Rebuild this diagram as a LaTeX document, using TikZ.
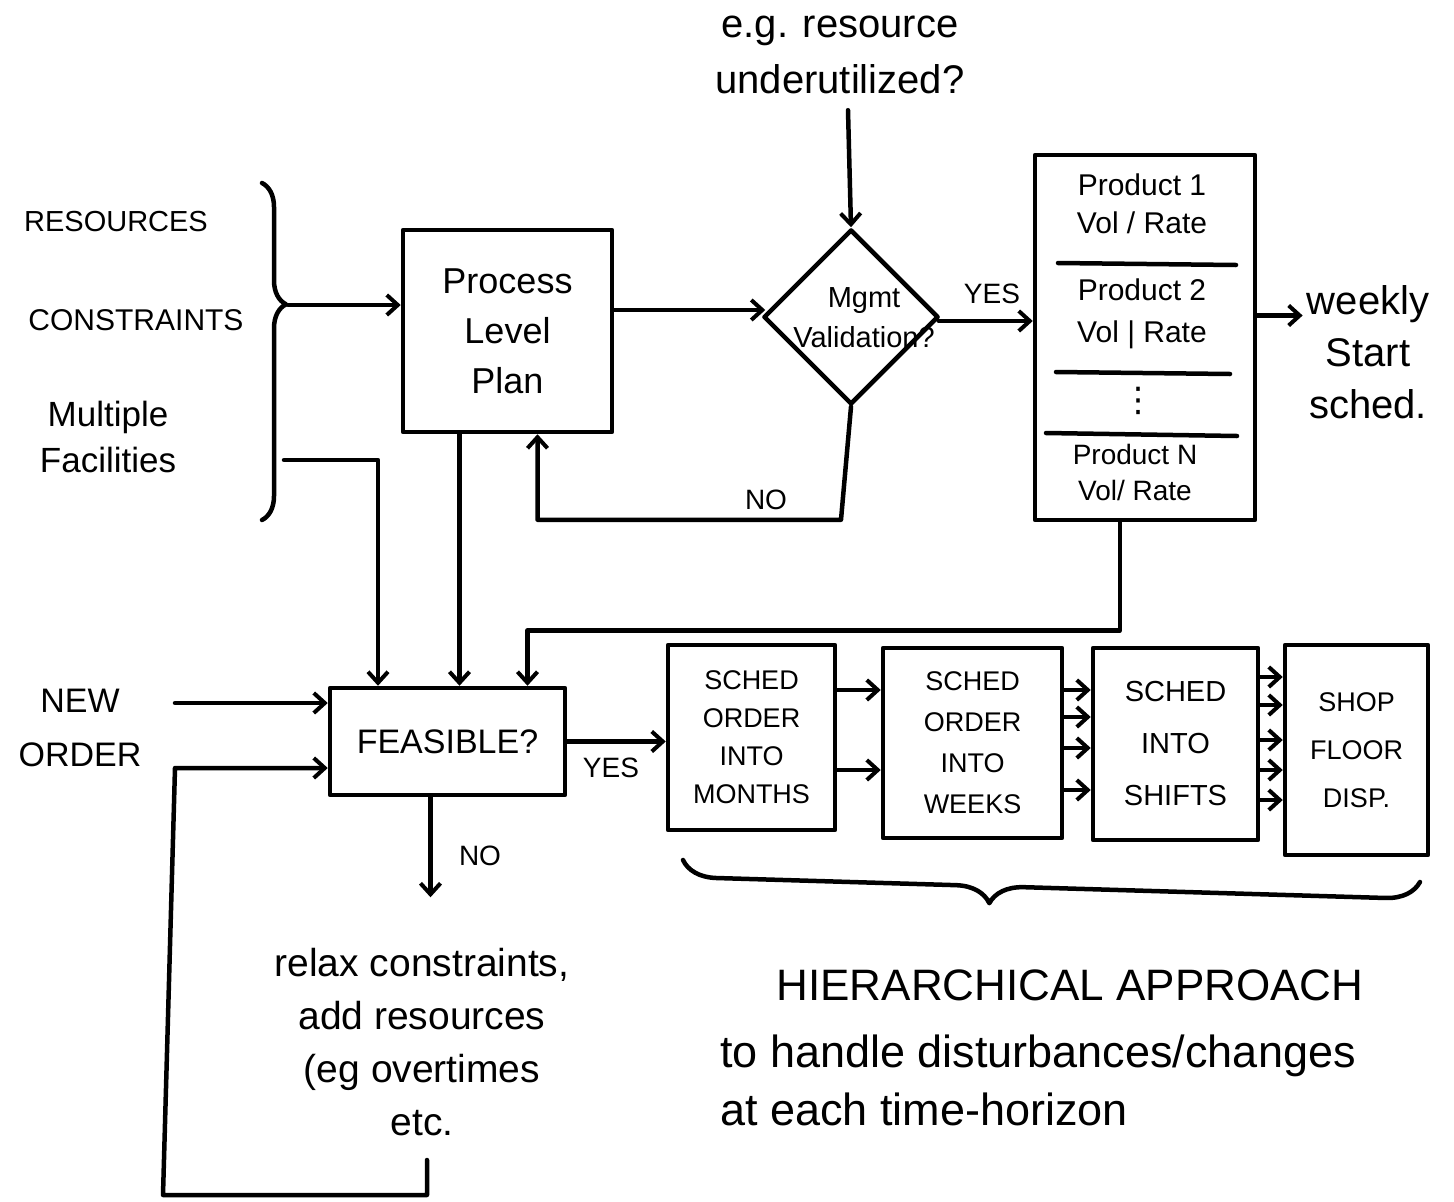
\documentclass[tikz,border=0pt]{standalone}
\usepackage{fontspec}
\setmainfont{Liberation Sans}
\newfontfamily\dejavu{DejaVu Sans}
\usetikzlibrary{arrows.meta,shapes.geometric,decorations.pathreplacing,calc}
\begin{document}
\begin{tikzpicture}[x=1pt,y=-1pt,
  line width=4.5pt, line cap=round, line join=round,
  arr/.style={-{Straight Barb[length=11pt,width=20pt,line width=4pt]}},
  box/.style={draw, rectangle, inner sep=0pt, align=center},
  txt/.style={align=center, inner sep=0pt}]
\useasboundingbox (0,0) rectangle (1454,1202);
\fill[white] (0,0) rectangle (1454,1202);

% ---- top annotation and decision
\node[txt,font=\fontsize{40}{56}\selectfont] (eg) at (840,55) {e.g. resource\\underutilized?};
\node[draw, diamond, aspect=1, minimum width=175pt, minimum height=175pt, inner sep=0pt] (mgmt) at (851,317) {};
\node[txt,font=\fontsize{29}{40}\selectfont] (mgmtt) at (864,318) {Mgmt\\Validation?};

% ---- process level plan
\node[box,font=\fontsize{36}{50}\selectfont,minimum width=209pt,minimum height=202pt] (plan) at (507.5,331) {Process\\Level\\Plan};

% ---- product column
\node[box,minimum width=220pt,minimum height=365pt] (prod) at (1145,337.5) {};
\draw (1058,263) -- (1236,265);
\draw (1056,372) -- (1230,374);
\draw (1046,433) -- (1237,436);
\node[txt,font=\fontsize{30}{38}\selectfont] (p1) at (1142,204) {Product 1\\Vol / Rate};
\node[txt,font=\fontsize{30}{42}\selectfont] (p2) at (1142,314) {Product 2\\Vol | Rate};
\node[txt,font=\dejavu\fontsize{34}{36}\selectfont] (pd) at (1138,401) {⋮};
\node[txt,font=\fontsize{28}{36}\selectfont] (pn) at (1135,472) {Product N\\Vol/ Rate};
\node[txt,font=\fontsize{40}{52}\selectfont] (weekly) at (1368,352) {weekly\\Start\\sched.};

% ---- left inputs
\node[txt,font=\fontsize{29}{36}\selectfont] (res) at (116,222) {RESOURCES};
\node[txt,font=\fontsize{30}{36}\selectfont] (con) at (136,320) {CONSTRAINTS};
\node[txt,font=\fontsize{35}{46}\selectfont] (mf) at (108,437) {Multiple\\Facilities};
\draw[decorate, decoration={brace, amplitude=24pt, aspect=0.36}] (262,183) -- (262,520);
\coordinate (bt) at (288,305);
\coordinate (bm) at (284,460);

% ---- feasible
\node[box,font=\fontsize{34}{40}\selectfont,minimum width=235pt,minimum height=107pt] (feas) at (447.5,741.5) {FEASIBLE?};
\node[txt,font=\fontsize{34}{54}\selectfont] (neworder) at (80,728) {NEW\\ORDER};
\coordinate (nw) at (175,703);
\node[txt,font=\fontsize{39}{53}\selectfont] (relax) at (422,1042) {relax constraints,\\add resources\\(eg overtimes\\etc.};
\coordinate (lp) at (427,1160);

% ---- schedule chain
\node[box,font=\fontsize{27}{38}\selectfont,minimum width=167pt,minimum height=185pt] (s1) at (751.5,737.5) {SCHED\\ORDER\\INTO\\MONTHS};
\node[box,font=\fontsize{27}{41}\selectfont,minimum width=179pt,minimum height=190pt] (s2) at (972.5,743) {SCHED\\ORDER\\INTO\\WEEKS};
\node[box,font=\fontsize{29}{52}\selectfont,minimum width=165pt,minimum height=192pt] (s3) at (1175.5,744) {SCHED\\INTO\\SHIFTS};
\node[box,font=\fontsize{27}{48}\selectfont,minimum width=143pt,minimum height=210pt] (s4) at (1356.5,750) {SHOP\\FLOOR\\DISP.};

\draw[decorate, decoration={brace, mirror, amplitude=34pt, aspect=0.417}] (683,860) -- (1420,882);
\node[txt,font=\fontsize{44}{50}\selectfont] (h1) at (1070,985) {HIERARCHICAL APPROACH};
\node[txt,align=left,anchor=west,font=\fontsize{45}{58}\selectfont] (h2) at (718,1080) {to handle disturbances/changes\\at each time-horizon};

% ---- labels
\node[txt,font=\fontsize{28}{30}\selectfont] (yes1) at (992,294) {YES};
\node[txt,font=\fontsize{28}{30}\selectfont] (no1) at (766,500) {NO};
\node[txt,font=\fontsize{28}{30}\selectfont] (yes2) at (611,768) {YES};
\node[txt,font=\fontsize{28}{30}\selectfont] (no2) at (480,856) {NO};

% ---- connectors
\draw[arr] ($(eg.south -| mgmt.north)+(-3,14)$) -- (mgmt.north);
\draw[arr] ($(plan.east)+(0,-21)$) coordinate (pq) -- ($(pq -| mgmt.west)+(4,0)$);
\draw[arr] ($(mgmt.east)+(-2,4)$) coordinate (me) -- (me -| prod.west);
\draw[arr] ($(prod.east)+(0,-22)$) coordinate (pe) -- ($(pe -| weekly.west)+(-2,0)$);
\draw[arr] (mgmt.south) -- ++(-10,113) -| ($(plan.south)+(30,0)$);
\draw[arr] (bt) -- (bt -| plan.west);
\draw[arr] (bm) -| ($(feas.north)+(-69.5,0)$);
\draw[arr] ($(plan.south)+(-48,0)$) coordinate (ps) -- (ps |- feas.north);
\draw[arr] ($(prod.south)+(-25,0)$) -- ++(0,108) -| ($(feas.north)+(80,0)$);
\draw[arr] (nw) -- (nw -| feas.west);
\draw[arr] (lp) -- (427,1195) -- (163,1195) -- (175,768) -- (feas.west |- 0,768);
\draw[arr] ($(feas.south)+(-17,0)$) -- ++(0,100);
\draw[arr] (feas.east) -- (feas.east -| s1.west);
\foreach \y in {690,770} \draw[arr] (s1.east |- 0,\y) -- (s2.west |- 0,\y);
\foreach \y in {690,717,748,790} \draw[arr] (s2.east |- 0,\y) -- (s3.west |- 0,\y);
\foreach \y in {677,705,740,770,800} \draw[arr] (s3.east |- 0,\y) -- (s4.west |- 0,\y);
\end{tikzpicture}
\end{document}
